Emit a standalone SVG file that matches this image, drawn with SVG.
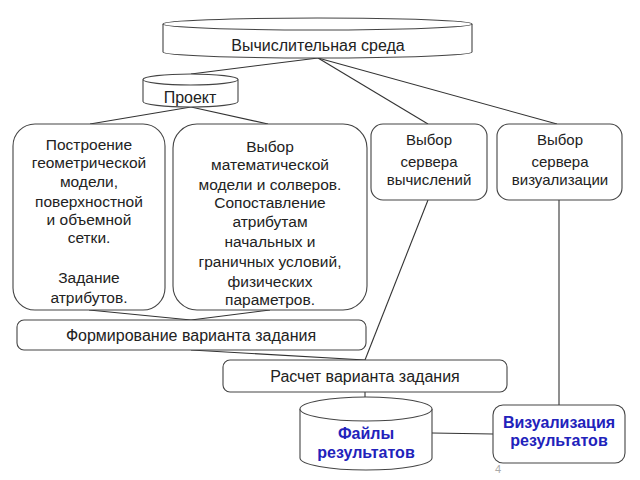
<svg xmlns="http://www.w3.org/2000/svg" width="640" height="480" viewBox="0 0 640 480">
<style>
.s{fill:#fff;stroke:#444;stroke-width:1.1}
.c line{stroke:#333;stroke-width:1.1}
text{font-family:"Liberation Sans",Arial,sans-serif;font-size:16px;fill:#222;text-anchor:middle}
.m{font-size:15.5px}
.n{font-size:15px}
.b{font-weight:bold;fill:#2222bb}
</style>
<rect width="640" height="480" fill="#fff"/>
<g class="c" id="connectors">
<line x1="318" y1="58" x2="191" y2="74"/>
<line x1="318" y1="58" x2="428" y2="124"/>
<line x1="318" y1="58" x2="557" y2="124"/>
<line x1="191" y1="107" x2="90" y2="124"/>
<line x1="191" y1="107" x2="268" y2="124"/>
<line x1="89" y1="310" x2="191" y2="320"/>
<line x1="270" y1="310" x2="191" y2="320"/>
<line x1="191" y1="350" x2="365" y2="360"/>
<line x1="428" y1="200" x2="365" y2="360"/>
<line x1="365" y1="392" x2="365" y2="397"/>
<line x1="432" y1="433" x2="493" y2="434"/>
<line x1="559" y1="200" x2="559" y2="405"/>
</g>
<g id="env">
<path class="s" d="M163,24 V52 A154.5,6 0 0 0 472,52 V24"/>
<ellipse class="s" cx="317.5" cy="24" rx="154.5" ry="6"/>
<text x="318" y="51">Вычислительная среда</text>
</g>
<g id="project">
<path class="s" d="M143,79.5 V101.5 A47.5,5.5 0 0 0 238,101.5 V79.5"/>
<ellipse class="s" cx="190.5" cy="79.5" rx="47.5" ry="5.5"/>
<text x="190" y="103">Проект</text>
</g>
<g id="geom" class="m">
<rect class="s" x="13" y="124" width="152" height="186" rx="22"/>
<text class="m" x="89" y="150">Построение</text>
<text class="m" x="89" y="168">геометрической</text>
<text class="m" x="89" y="187">модели,</text>
<text class="m" x="89" y="207">поверхностной</text>
<text class="m" x="89" y="225">и объемной</text>
<text class="m" x="89" y="243">сетки.</text>
<text class="m" x="89" y="283">Задание</text>
<text class="m" x="89" y="303">атрибутов.</text>
</g>
<g id="math">
<rect class="s" x="173" y="124" width="194" height="186" rx="24"/>
<text class="m" x="270" y="152">Выбор</text>
<text class="m" x="270" y="170">математической</text>
<text class="m" x="270" y="190">модели и солверов.</text>
<text class="m" x="270" y="208">Сопоставление</text>
<text class="m" x="270" y="227">атрибутам</text>
<text class="m" x="270" y="247">начальных и</text>
<text class="m" x="270" y="267">граничных условий,</text>
<text class="m" x="270" y="287">физических</text>
<text class="m" x="270" y="305">параметров.</text>
</g>
<g id="compserver">
<rect class="s" x="371" y="124" width="116" height="76" rx="12"/>
<text class="n" x="429" y="145">Выбор</text>
<text class="n" x="429" y="167">сервера</text>
<text class="n" x="429" y="185">вычислений</text>
</g>
<g id="visserver">
<rect class="s" x="497" y="124" width="125" height="76" rx="12"/>
<text class="n" x="560" y="145">Выбор</text>
<text class="n" x="560" y="167">сервера</text>
<text class="n" x="560" y="185">визуализации</text>
</g>
<g id="form">
<rect class="s" x="17" y="320" width="349" height="30" rx="7"/>
<text x="191" y="341">Формирование варианта задания</text>
</g>
<g id="calc">
<rect class="s" x="223" y="360" width="284" height="32" rx="7"/>
<text x="365" y="382">Расчет варианта задания</text>
</g>
<g id="files">
<path class="s" d="M300,409 V458 A66,12 0 0 0 432,458 V409"/>
<ellipse class="s" cx="366" cy="409" rx="66" ry="12"/>
<text class="b" x="366" y="439">Файлы</text>
<text class="b" x="366" y="458">результатов</text>
</g>
<g id="vis">
<rect class="s" x="493" y="405" width="132" height="58" rx="10"/>
<text class="b" x="559" y="428">Визуализация</text>
<text class="b" x="559" y="446">результатов</text>
</g>
<text x="498" y="473" style="font-size:11px;fill:#aaa">4</text>
</svg>
